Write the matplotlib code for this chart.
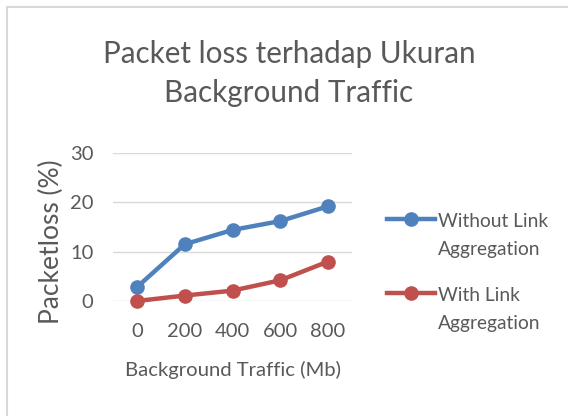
import matplotlib.pyplot as plt
from matplotlib.lines import Line2D

traffic = ['0', '200', '400', '600', '800']
without_lag = [2.8, 11.5, 14.4, 16.2, 19.2]
with_lag = [0.0, 1.1, 2.1, 4.2, 8.0]
series_names = [['Without Link', 'Aggregation'], ['With Link', 'Aggregation']]
colors = ['#4F81BD', '#C0504D']

plt.rcParams['font.family'] = ['Lato', 'DejaVu Sans']
txt = '#595959'
W, H = 568, 416

fig = plt.figure(figsize=(5.68, 4.16), dpi=100)
ax = fig.add_axes([113 / W, 1 - 301 / H, 239 / W, 148 / H])

x = range(len(traffic))
for vals, c in zip([without_lag, with_lag], colors):
    ax.plot(x, vals, color=c, lw=3.2, marker='o', ms=9.5, clip_on=False)

ax.set_xlim(-0.5, 4.5)
ax.set_ylim(0, 30)
ax.set_yticks([0, 10, 20, 30])
ax.set_xticks(list(x))
ax.set_xticklabels(traffic)
ax.grid(axis='y', color='#D9D9D9', lw=1)
ax.set_axisbelow(True)
for s in ax.spines.values():
    s.set_visible(False)
ax.tick_params(length=0, labelsize=14.5, labelcolor=txt)
ax.tick_params(axis='x', pad=16)
ax.tick_params(axis='y', pad=14)

ax.set_xlabel('Background Traffic (Mb)', fontsize=14.6, color=txt, labelpad=15)
ax.set_ylabel('Packetloss (%)', fontsize=19, color=txt)
ax.yaxis.set_label_coords(-0.205, 0.40)

# title, two lines
fig.text(289 / W, 1 - 63 / H, 'Packet loss terhadap Ukuran', ha='center', va='baseline', fontsize=21.3, color=txt)
fig.text(289 / W, 1 - 102 / H, 'Background Traffic', ha='center', va='baseline', fontsize=21.3, color=txt)

# legend, handle aligned with the first label line
for i, (lines, c) in enumerate(zip(series_names, colors)):
    y0 = 219 + 74 * i
    fig.add_artist(Line2D([387 / W, 435 / W], [1 - y0 / H, 1 - y0 / H], color=c, lw=3.2))
    fig.add_artist(Line2D([411 / W], [1 - y0 / H], color=c, marker='o', ms=9.5, lw=0))
    for j, line in enumerate(lines):
        fig.text(438 / W, 1 - (y0 + 8 + 28 * j) / H, line, ha='left', va='baseline',
                 fontsize=13.8, color=txt)

# chart border (top and left only visible)
fig.add_artist(Line2D([7 / W, 1], [1 - 7 / H, 1 - 7 / H], color='#D9D9D9', lw=1.5))
fig.add_artist(Line2D([7 / W, 7 / W], [0, 1 - 7 / H], color='#D9D9D9', lw=1.5))

fig.savefig('out.png', dpi=100)
